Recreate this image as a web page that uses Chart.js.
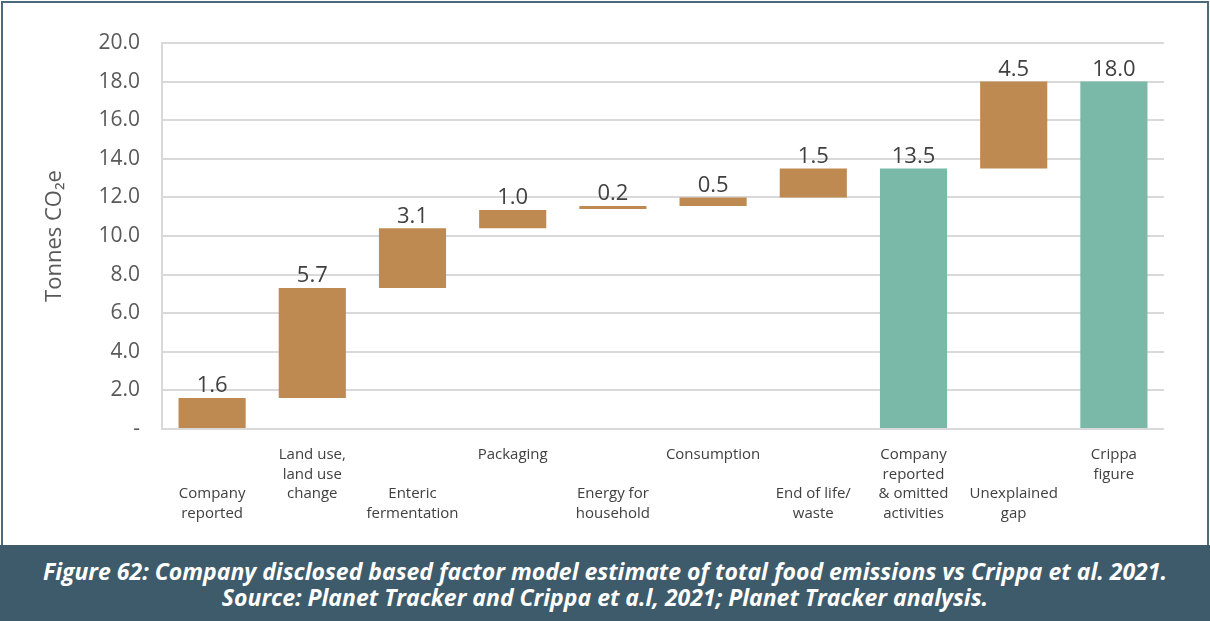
<!DOCTYPE html>
<html>
<head>
<meta charset="utf-8">
<script src="https://cdn.jsdelivr.net/npm/chart.js@4.4.0/dist/chart.umd.min.js"></script>
<style>
  html, body { margin: 0; padding: 0; background: #fff; }
  #wrap { position: relative; width: 1210px; height: 621px; overflow: hidden; font-family: "Open Sans", sans-serif; }
  #chartBox { position: absolute; left: 0; top: 0; width: 1210px; height: 545px; }
  #frame { position: absolute; left: 1px; top: 1px; width: 1204px; height: 550px; border: 2px solid #4b6a7a; border-bottom: none; pointer-events: none; }
  #caption { position: absolute; left: 0; top: 545px; width: 1210px; height: 76px; background: #3e5b6b; color: #fff;
    font-style: italic; font-weight: bold; font-size: 23px; line-height: 26px; text-align: center; }
  #caption div { white-space: nowrap; }
</style>
</head>
<body>
<div id="wrap">
  <div id="chartBox"><canvas id="waterfall"></canvas></div>
  <div id="frame"></div>
  <div id="caption">
    <div style="padding-top:13px">Figure 62: Company disclosed based factor model estimate of total food emissions vs Crippa et al. 2021.</div>
    <div>Source: Planet Tracker and Crippa et a.l, 2021; Planet Tracker analysis.</div>
  </div>
</div>
<script>
// kategori (label berbaris, yang "bawah" diberi 2 baris kosong)
var categories = [
  ['', '', 'Company', 'reported'],
  ['Land use,', 'land use', 'change'],
  ['', '', 'Enteric', 'fermentation'],
  ['Packaging'],
  ['', '', 'Energy for', 'household'],
  ['Consumption'],
  ['', '', 'End of life/', 'waste'],
  ['Company', 'reported', '& omitted', 'activities'],
  ['', '', 'Unexplained', 'gap'],
  ['Crippa', 'figure']
];
var barBottom = [0, 1.6, 7.3, 10.4, 11.4, 11.55, 12.0, 0, 13.5, 0];
var barTop    = [1.6, 7.3, 10.4, 11.35, 11.55, 12.0, 13.5, 13.5, 18.0, 18.0];
var valueLabels = ['1.6', '5.7', '3.1', '1.0', '0.2', '0.5', '1.5', '13.5', '4.5', '18.0'];
var isTotal = [false, false, false, false, false, false, false, true, false, true];

var brown = '#bf8a52';
var teal = '#7ab8a8';

var floating = barBottom.map(function (b, i) { return [b, barTop[i]]; });

var labelPlugin = {
  id: 'valueLabels',
  afterDatasetsDraw: function (chart) {
    var ctx = chart.ctx;
    var meta = chart.getDatasetMeta(0);
    ctx.save();
    ctx.font = '22px "Open Sans"';
    ctx.fillStyle = '#404040';
    ctx.textAlign = 'center';
    ctx.textBaseline = 'bottom';
    meta.data.forEach(function (bar, i) {
      var top = Math.min(bar.y, bar.base);
      ctx.fillText(valueLabels[i], bar.x, top - 1);
    });
    ctx.restore();
  }
};

var ctx = document.getElementById('waterfall').getContext('2d');
var chart = new Chart(ctx, {
  type: 'bar',
  data: {
    labels: categories,
    datasets: [{
      data: floating,
      backgroundColor: isTotal.map(function (t) { return t ? teal : brown; }),
      borderSkipped: false,
      borderWidth: 0,
      categoryPercentage: 1,
      barPercentage: 0.67
    }]
  },
  options: {
    responsive: true,
    maintainAspectRatio: false,
    animation: false,
    layout: { padding: { top: 43, right: 46, bottom: 0, left: 0 } },
    plugins: { legend: { display: false }, tooltip: { enabled: false } },
    scales: {
      x: {
        grid: { display: false, drawTicks: false },
        border: { display: false },
        ticks: {
          color: '#404040',
          font: { family: 'Open Sans', size: 15, lineHeight: 1.3 },
          maxRotation: 0, autoSkip: false, padding: 16
        },
        afterFit: function (s) { s.height = 116; }
      },
      y: {
        min: 0, max: 20,
        grid: { color: '#d9d9d9', lineWidth: 2, drawTicks: false },
        border: { display: true, color: '#d9d9d9', width: 2 },
        ticks: {
          stepSize: 2,
          color: '#595959',
          padding: 22,
          font: { family: 'Open Sans', size: 21 },
          callback: function (v) { return v === 0 ? '-' : v.toFixed(1); }
        },
        title: {
          display: true,
          text: 'Tonnes CO\u2082e',
          color: '#595959',
          font: { family: 'Open Sans', size: 22 },
          padding: { top: 42, bottom: 0 }
        },
        afterFit: function (s) { s.width = 162; }
      }
    }
  },
  plugins: [labelPlugin]
});
</script>
</body>
</html>
